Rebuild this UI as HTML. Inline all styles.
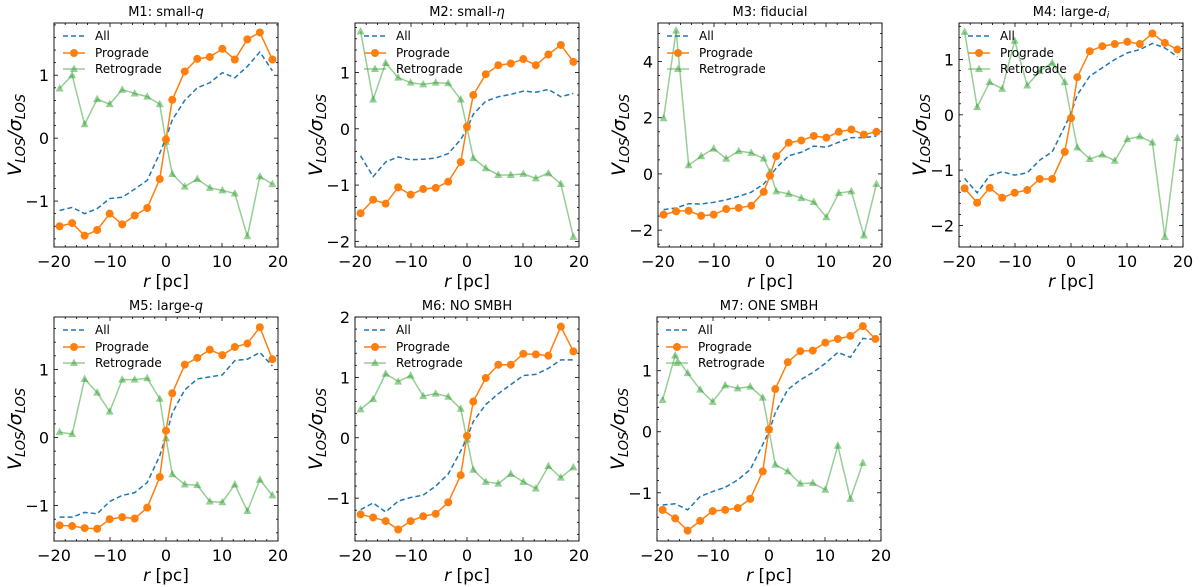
<!DOCTYPE html>
<html><head><meta charset="utf-8"><style>
body{margin:0;background:#fff;}
svg{display:block;font-family:"DejaVu Sans","Liberation Sans",sans-serif;}
</style></head><body>
<svg id="fig" width="1200" height="587" viewBox="0 0 1200 587" xmlns="http://www.w3.org/2000/svg"></svg>
<script>
const xs = [-19,-16.76,-14.53,-12.29,-10.06,-7.82,-5.59,-3.35,-1.12,0,1.12,3.35,5.59,7.82,10.06,12.29,14.53,16.76,19];
const titles = ["M1: small-q","M2: small-η","M3: fiducial","M4: large-d_i","M5: large-q","M6: NO SMBH","M7: ONE SMBH"];
const allM1 = [-1.15,-1.10,-1.20,-1.12,-0.96,-0.94,-0.81,-0.67,-0.24,0.0,0.29,0.60,0.80,0.88,1.04,0.96,1.14,1.37,1.07];
const proM1 = [-1.40,-1.35,-1.55,-1.46,-1.20,-1.37,-1.23,-1.11,-0.65,-0.02,0.61,1.06,1.26,1.29,1.42,1.25,1.57,1.68,1.25];
const retM1 = [0.79,1.00,0.22,0.62,0.54,0.77,0.71,0.66,0.54,-0.06,-0.57,-0.77,-0.65,-0.79,-0.83,-0.88,-1.56,-0.61,-0.73];
const allM2 = [-0.48,-0.85,-0.59,-0.50,-0.55,-0.54,-0.52,-0.44,-0.19,0,0.26,0.49,0.57,0.61,0.67,0.65,0.70,0.57,0.63];
const proM2 = [-1.50,-1.26,-1.33,-1.04,-1.17,-1.07,-1.05,-0.94,-0.59,0.04,0.60,0.97,1.13,1.16,1.24,1.13,1.32,1.49,1.19];
const retM2 = [1.73,0.52,1.17,0.91,0.82,0.79,0.82,0.81,0.52,0.02,-0.52,-0.70,-0.82,-0.82,-0.80,-0.88,-0.79,-0.98,-1.92];
const allM3 = [-1.27,-1.21,-1.06,-1.07,-1.01,-0.92,-0.80,-0.65,-0.36,-0.08,0.21,0.65,0.77,0.99,0.95,1.13,1.29,1.29,1.35];
const proM3 = [-1.45,-1.33,-1.31,-1.49,-1.45,-1.25,-1.21,-1.13,-0.64,-0.06,0.63,1.11,1.19,1.35,1.29,1.50,1.58,1.40,1.50];
const retM3 = [1.98,5.10,0.31,0.63,0.90,0.54,0.81,0.75,0.55,0.07,-0.62,-0.71,-0.86,-1.00,-1.54,-0.68,-0.62,-2.19,-0.36];
const allM4 = [-1.15,-1.41,-1.10,-1.03,-1.09,-1.05,-0.82,-0.67,-0.21,0.03,0.36,0.70,0.85,1.00,1.12,1.18,1.29,1.21,1.05];
const proM4 = [-1.33,-1.59,-1.32,-1.50,-1.41,-1.36,-1.16,-1.16,-0.67,-0.06,0.68,1.15,1.24,1.28,1.32,1.28,1.47,1.30,1.18];
const retM4 = [1.50,0.14,0.59,0.47,1.34,0.53,0.79,0.94,0.59,-0.01,-0.59,-0.80,-0.72,-0.83,-0.44,-0.39,-0.50,-2.21,-0.42];
const allM5 = [-1.17,-1.17,-1.10,-1.12,-0.94,-0.85,-0.81,-0.66,-0.27,0.02,0.36,0.70,0.86,0.89,0.92,1.13,1.15,1.25,1.05];
const proM5 = [-1.29,-1.30,-1.33,-1.34,-1.20,-1.17,-1.19,-1.03,-0.58,0.10,0.65,1.07,1.17,1.29,1.21,1.33,1.38,1.62,1.15];
const retM5 = [0.08,0.05,0.86,0.66,0.38,0.85,0.85,0.87,0.57,-0.01,-0.54,-0.69,-0.70,-0.94,-0.95,-0.69,-1.08,-0.62,-0.85];
const allM6 = [-1.19,-1.08,-1.23,-1.05,-0.99,-0.95,-0.80,-0.60,-0.22,0,0.27,0.55,0.73,0.88,1.03,1.05,1.15,1.29,1.29];
const proM6 = [-1.27,-1.32,-1.38,-1.52,-1.38,-1.30,-1.26,-1.07,-0.62,0.03,0.60,0.99,1.21,1.21,1.39,1.38,1.36,1.84,1.43];
const retM6 = [0.47,0.64,1.06,0.93,1.03,0.69,0.73,0.68,0.48,-0.03,-0.53,-0.73,-0.76,-0.60,-0.73,-0.84,-0.47,-0.66,-0.49];
const allM7 = [-1.20,-1.18,-1.28,-1.06,-0.98,-0.91,-0.79,-0.62,-0.21,0,0.31,0.69,0.85,0.97,1.12,1.30,1.22,1.53,1.51];
const proM7 = [-1.28,-1.42,-1.62,-1.46,-1.30,-1.28,-1.25,-1.10,-0.65,0.04,0.70,1.14,1.32,1.33,1.46,1.52,1.57,1.73,1.52];
const retM7 = [0.52,1.25,0.96,0.69,0.49,0.76,0.71,0.74,0.56,0.03,-0.54,-0.65,-0.85,-0.84,-0.95,-0.23,-1.10,-0.51,null];
const xTicks = [-20,-10,0,10,20];
const yTicksList = [[-1,0,1],[-2,-1,0,1],[-2,0,2,4],[-2,-1,0,1],[-1,0,1],[-1,0,1,2],[-1,0,1]];
const yLims = [[-1.73,1.83],[-2.1,1.88],[-2.6,5.37],[-2.39,1.66],[-1.52,1.77],[-1.71,2.0],[-1.79,1.88]];
const yMinor = [0.2,0.2,0.5,0.2,0.2,0.2,0.2];
const series = [[allM1,proM1,retM1],[allM2,proM2,retM2],[allM3,proM3,retM3],[allM4,proM4,retM4],[allM5,proM5,retM5],[allM6,proM6,retM6],[allM7,proM7,retM7]];

const boxes = [[54,23],[355,23],[658,23],[959,23],[54,317],[355,317],[657,317]];
const W=224,H=224;
const NS="http://www.w3.org/2000/svg";
const svg=document.getElementById('fig');
function mk(tag,attrs,parent){const e=document.createElementNS(NS,tag);for(const k in attrs)e.setAttribute(k,attrs[k]);(parent||svg).appendChild(e);return e;}
function fmt(v){return v<0?'\u2212'+Math.abs(v):String(v);}

series.forEach((ser,p)=>{
  const [L,T]=boxes[p];
  const [y0,y1]=yLims[p];
  const X=v=>L+(v+20)/40*W;
  const Y=v=>T+H-(v-y0)/(y1-y0)*H;
  const g=mk('g',{});
  
  
  const tg=mk('g',{stroke:'#000','stroke-width':0.8},g);
  
  
  for(let v=-20;v<=20.001;v+=2){const major=Math.abs(v%10)<1e-6;const len=major?4:2;const x=X(v);
    mk('line',{x1:x,x2:x,y1:T+H,y2:T+H-len},tg);mk('line',{x1:x,x2:x,y1:T,y2:T+len},tg);}
  const m=yMinor[p];
  for(let v=Math.ceil(y0/m)*m;v<=y1;v+=m){const r=Math.round(v*1000)/1000;const major=Math.abs(r-Math.round(r))<1e-6&&(p!==2||Math.round(r)%2===0);const len=major?4:2;const y=Y(r);
    mk('line',{x1:L,x2:L+len,y1:y,y2:y},tg);mk('line',{x1:L+W,x2:L+W-len,y1:y,y2:y},tg);}
  xTicks.forEach(t=>{const e=mk('text',{x:X(t),y:T+H+20,'text-anchor':'middle','font-size':16},g);e.textContent=fmt(t);
    
    });
  yTicksList[p].forEach(t=>{const e=mk('text',{x:L-5,y:Y(t)+6,'text-anchor':'end','font-size':16},g);e.textContent=fmt(t);
    
    });
  const pts=arr=>xs.map((x,i)=>arr[i]==null?null:[X(x),Y(arr[i])]).filter(a=>a);
  const clipId='c'+p;
  const cp=mk('clipPath',{id:clipId},g);mk('rect',{x:L,y:T,width:W,height:H},cp);
  const sg=mk('g',{'clip-path':'url(#'+clipId+')'},g);
  const all=mk('polyline',{points:pts(ser[0]).map(a=>a.join(',')).join(' '),fill:'none',stroke:'#1f77b4','stroke-width':1.5,'stroke-dasharray':'5,3'},sg);
  
  
  const rp=pts(ser[2]);
  const ret=mk('polyline',{points:rp.map(a=>a.join(',')).join(' '),fill:'none',stroke:'#2ca02c','stroke-opacity':0.5,'stroke-width':1.5},sg);
  
  
  rp.forEach(([x,y])=>{const t=mk('polygon',{points:`${x},${y-4.5} ${x-4},${y+3} ${x+4},${y+3}`,fill:'#2ca02c','fill-opacity':0.5},sg);
    
    });
  const pp=pts(ser[1]);
  const pro=mk('polyline',{points:pp.map(a=>a.join(',')).join(' '),fill:'none',stroke:'#ff7f0e','stroke-width':1.5},sg);
  
  
  pp.forEach(([x,y])=>{const c=mk('circle',{cx:x,cy:y,r:4,fill:'#ff7f0e'},sg);
    
    });
  const fr=mk('rect',{x:L,y:T,width:W,height:H,fill:'none',stroke:'#000','stroke-width':0.9},g);
  
  
  const lg=mk('g',{},g);
  
  
  const lx=L+9, ly=[T+13,T+30,T+46];
  mk('line',{x1:lx,x2:lx+22,y1:ly[0],y2:ly[0],stroke:'#1f77b4','stroke-width':1.5,'stroke-dasharray':'5,3'},lg);
  mk('line',{x1:lx,x2:lx+22,y1:ly[1],y2:ly[1],stroke:'#ff7f0e','stroke-width':1.5},lg);
  mk('circle',{cx:lx+11,cy:ly[1],r:4,fill:'#ff7f0e'},lg);
  mk('line',{x1:lx,x2:lx+22,y1:ly[2],y2:ly[2],stroke:'#2ca02c','stroke-opacity':0.5,'stroke-width':1.5},lg);
  mk('polygon',{points:`${lx+11},${ly[2]-4.5} ${lx+7},${ly[2]+3} ${lx+15},${ly[2]+3}`,fill:'#2ca02c','fill-opacity':0.5},lg);
  ['All','Prograde','Retrograde'].forEach((s,i)=>{const e=mk('text',{x:lx+32,y:ly[i]+4,'font-size':12},lg);e.textContent=s;
    
    });
  const tt=mk('text',{x:L+W/2,y:T-7,'text-anchor':'middle','font-size':13},g);
  
  
  const parts=titles[p].split(/-(?=[qη]|d_i)/);
  if(parts.length>1){tt.appendChild(document.createTextNode(parts[0]+'-'));
    const ts=mk('tspan',{'font-style':'italic'},tt);
    if(parts[1]==='d_i'){ts.textContent='d';const s=mk('tspan',{'font-size':9,dy:2},tt);s.setAttribute('font-style','italic');s.textContent='i';}
    else ts.textContent=parts[1];}
  else tt.textContent=titles[p];
  const xl=mk('text',{x:L+W/2,y:T+H+40,'text-anchor':'middle','font-size':17},g);
  
  
  const xi=mk('tspan',{'font-style':'italic'},xl);xi.textContent='r';
  xl.appendChild(document.createTextNode(' [pc]'));
  const yl=mk('text',{transform:`translate(${L-33},${T+H/2}) rotate(-90)`,'text-anchor':'middle','font-size':19,'font-style':'italic'},g);
  
  
  const a=mk('tspan',{},yl);a.textContent='V';
  const b=mk('tspan',{'font-size':13,dy:4},yl);b.textContent='LOS';
  const c=mk('tspan',{dy:-4},yl);c.textContent='/σ';
  const d=mk('tspan',{'font-size':13,dy:4},yl);d.textContent='LOS';
});
</script>
</body></html>
